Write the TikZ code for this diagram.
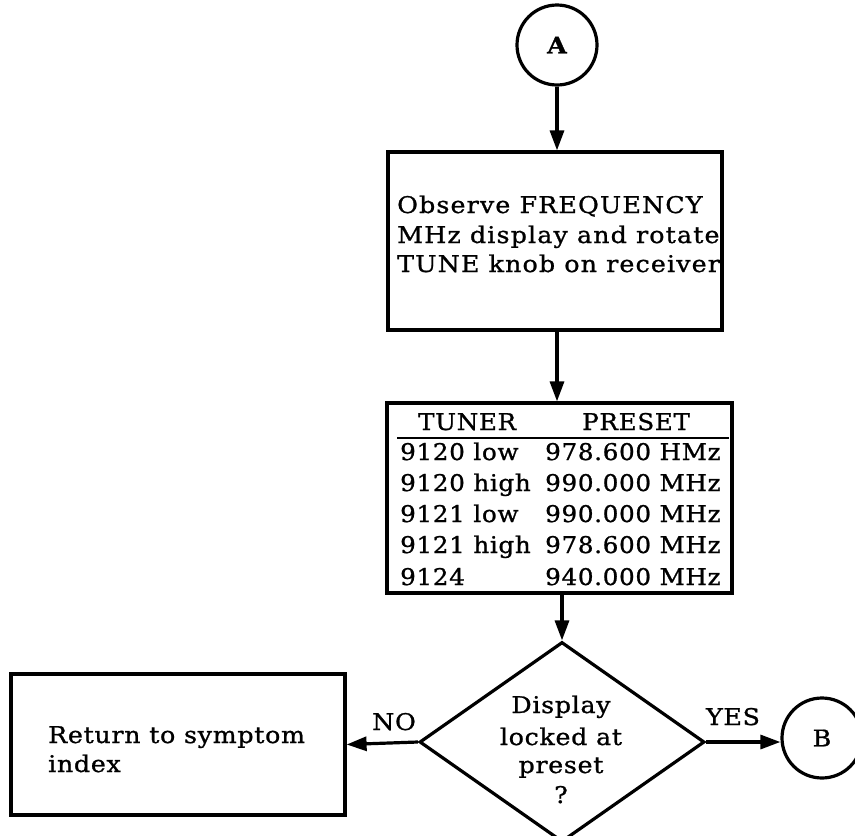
\documentclass[tikz,border=0pt]{standalone}
\usepackage{fontspec}
\setmainfont{DejaVu Serif}[FakeStretch=1.1,LetterSpace=3,FakeBold=1]
\newfontfamily\boxfont{DejaVu Serif}[FakeStretch=1.1,LetterSpace=5,FakeBold=1]
\newfontfamily\tblfont{DejaVu Serif}[FakeStretch=1.07,LetterSpace=3,FakeBold=1]
\usetikzlibrary{shapes.geometric,arrows.meta,calc}
\begin{document}
\begin{tikzpicture}[x=1pt,y=-1pt,
  every node/.style={font=\fontsize{23}{29.5}\selectfont},
  ln/.style={line width=3.2pt},
  boxs/.style={draw,ln,rectangle,inner sep=0pt},
  circ/.style={draw,ln,circle,inner sep=0pt},
  arr/.style={ln,-{Triangle[length=20pt,width=14pt]}},
  txt/.style={inner sep=0pt,anchor=base west},
  btxt/.style={inner sep=0pt,anchor=base west,font=\fontsize{23}{29.5}\selectfont\boxfont},
  ctxt/.style={inner sep=0pt,anchor=base},
  tb/.style={inner sep=0pt,anchor=base west,font=\fontsize{23}{29.5}\selectfont\tblfont}]
\useasboundingbox (0,0) rectangle (855,836);
% start circle
\node[circ,minimum size=80pt,font=\fontsize{23}{28}\selectfont\bfseries] (A) at (557,45) {A};
% first box
\node[boxs,minimum width=334pt,minimum height=178pt] (box1) at (555,241) {};
\node[btxt] (l1) at (397,213) {Observe FREQUENCY};
\node[btxt] (l2) at (397,243) {MHz display and rotate};
\node[btxt] (l3) at (397,272) {TUNE knob on receiver};
% table
\node[boxs,minimum width=345pt,minimum height=190pt] (tbl) at (559.5,498) {};
\node[tb] (h1) at (418,430) {TUNER};
\node[tb] (h2) at (582,430) {PRESET};
\coordinate (ul) at (397,438);
\coordinate (ur) at (729,438);
\draw[line width=2.2pt] (ul) -- (ur);
\node[tb] (r1a) at (400,460) {9120 low};
\node[tb] (r1b) at (545,460) {978.600 HMz};
\node[tb] (r2a) at (400,491) {9120 high};
\node[tb] (r2b) at (545,491) {990.000 MHz};
\node[tb] (r3a) at (400,522) {9121 low};
\node[tb] (r3b) at (545,522) {990.000 MHz};
\node[tb] (r4a) at (400,553) {9121 high};
\node[tb] (r4b) at (545,553) {978.600 MHz};
\node[tb] (r5a) at (400,585) {9124};
\node[tb] (r5b) at (545,585) {940.000 MHz};
% decision
\node[draw,ln,diamond,inner sep=0pt,minimum width=285pt,minimum height=200pt] (dia) at (562,742) {};
\node[ctxt] (d1) at (561,713) {Display};
\node[ctxt] (d2) at (561,745) {locked at};
\node[ctxt] (d3) at (561,773) {preset};
\node[ctxt] (d4) at (561,803) {?};
% return box
\node[boxs,minimum width=334pt,minimum height=141pt] (ret) at (178,744.5) {};
\node[txt] (rt1) at (48,743) {Return to symptom};
\node[txt] (rt2) at (48,772) {index};
% end circle
\node[circ,minimum size=80pt,font=\fontsize{23}{28}\selectfont] (B) at (822,738) {B};
% connectors
\coordinate (c1) at (557,0);
\draw[arr] (A.south) -- (A.south |- box1.north);
\draw[arr] (c1 |- box1.south) -- (c1 |- tbl.north);
\draw[arr] (dia.north |- tbl.south) -- (dia.north);
\draw[arr] (dia.west) -- (ret.east);
\draw[arr] (dia.east) -- (dia.east -| B.west);
\node[ctxt] (no) at (394,730) {NO};
\node[ctxt] (yes) at (733,725) {YES};
\end{tikzpicture}
\end{document}
